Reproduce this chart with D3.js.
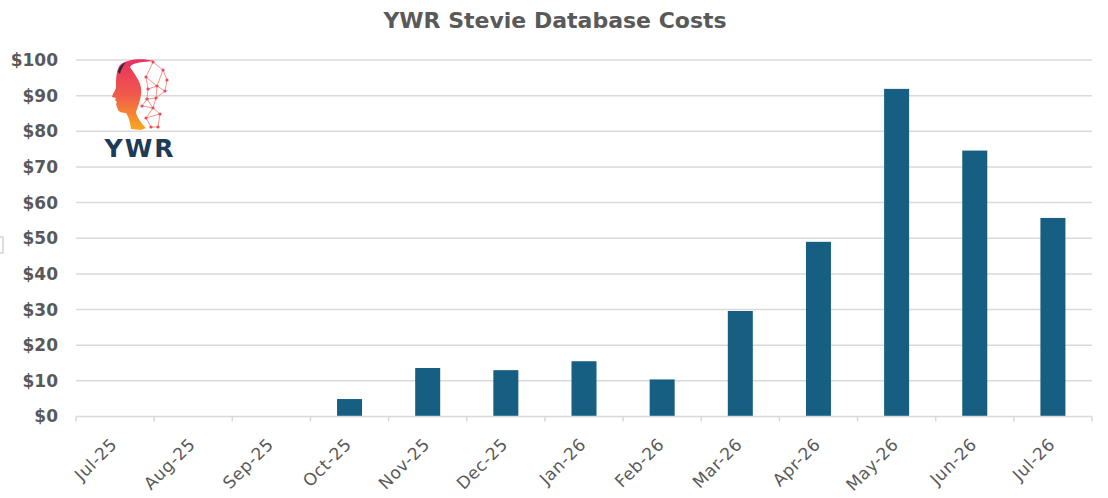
<!DOCTYPE html>
<html>
<head>
<meta charset="utf-8">
<script src="https://cdn.jsdelivr.net/npm/d3@7"></script>
<style>
  body { margin: 0; background: #fff; }
  svg { display: block; }
</style>
</head>
<body>
<svg id="chart" width="1108" height="498"></svg>
<script>
// Chart data
var months = ["Jul-25","Aug-25","Sep-25","Oct-25","Nov-25","Dec-25","Jan-26","Feb-26","Mar-26","Apr-26","May-26","Jun-26","Jul-26"];
var costs = [0, 0, 0, 4.9, 13.6, 13.0, 15.5, 10.4, 29.6, 49.0, 91.9, 74.6, 55.7];
var yTicks = [0, 10, 20, 30, 40, 50, 60, 70, 80, 90, 100];

var LEFT = 76, RIGHT = 1092, TOP = 60, BOTTOM = 416.5;
var GREY = "#595959", GRID = "#d9d9d9";

var svg = d3.select("#chart");

var x = d3.scaleBand().domain(months).range([LEFT, RIGHT]).paddingInner(0.68).paddingOuter(0.34);
var y = d3.scaleLinear().domain([0, 100]).range([BOTTOM, TOP]);

// title
svg.append("text")
	.attr("x", 555)
	.attr("y", 28)
	.attr("text-anchor", "middle")
	.attr("font-family", "DejaVu Sans")
	.attr("font-weight", "bold")
	.attr("font-size", "22px")
	.attr("fill", GREY)
	.text("YWR Stevie Database Costs");

// gridlines
svg.append("g")
	.selectAll("line")
	.data(yTicks.filter(function(d) { return d > 0; }))
	.enter()
	.append("line")
	.attr("x1", LEFT)
	.attr("x2", RIGHT)
	.attr("y1", function(d) { return y(d); })
	.attr("y2", function(d) { return y(d); })
	.attr("stroke", GRID)
	.attr("stroke-width", 1.5);

// y axis labels
var yAxis = d3.axisLeft(y).tickValues(yTicks).tickSize(0).tickPadding(0)
	.tickFormat(function(d) { return "$" + d; });
var gy = svg.append("g").attr("transform", "translate(58,0)").call(yAxis);
gy.select(".domain").remove();
gy.selectAll("text")
	.attr("font-family", "DejaVu Sans")
	.attr("font-weight", "bold")
	.attr("font-size", "17px")
	.attr("fill", GREY);

// bars
svg.append("g")
	.selectAll("rect")
	.data(months)
	.enter()
	.append("rect")
	.attr("x", function(d) { return x(d); })
	.attr("width", x.bandwidth())
	.attr("y", function(d, i) { return y(costs[i]); })
	.attr("height", function(d, i) { return BOTTOM - y(costs[i]); })
	.attr("fill", "#165f82");

// x axis line and ticks at band edges
var step = x.step();
var gx = svg.append("g");
gx.append("line")
	.attr("x1", LEFT).attr("x2", RIGHT)
	.attr("y1", BOTTOM).attr("y2", BOTTOM)
	.attr("stroke", GRID).attr("stroke-width", 1.5);
gx.selectAll(".tk")
	.data(d3.range(months.length + 1))
	.enter()
	.append("line")
	.attr("class", "tk")
	.attr("x1", function(i) { return LEFT + i * step; })
	.attr("x2", function(i) { return LEFT + i * step; })
	.attr("y1", BOTTOM)
	.attr("y2", BOTTOM + 5)
	.attr("stroke", GRID).attr("stroke-width", 1.5);

// x labels, rotated
gx.selectAll(".lbl")
	.data(months)
	.enter()
	.append("text")
	.attr("class", "lbl")
	.attr("text-anchor", "end")
	.attr("font-family", "DejaVu Sans")
	.attr("font-size", "17px")
	.attr("letter-spacing", "0.5px")
	.attr("fill", GREY)
	.attr("transform", function(d) {
		var cx = x(d) + x.bandwidth() / 2;
		return "translate(" + (cx + 3) + "," + (BOTTOM + 29) + ") rotate(-45)";
	})
	.text(function(d) { return d; });

// small box at left edge
svg.append("rect")
	.attr("x", -1).attr("y", 237).attr("width", 4).attr("height", 16)
	.attr("fill", "none").attr("stroke", "#bbb").attr("stroke-width", 1);

// YWR logo
var logo = svg.append("g");
var defs = svg.append("defs");
var grad = defs.append("linearGradient").attr("id", "headGrad")
	.attr("x1", 0).attr("y1", 0).attr("x2", 0).attr("y2", 1);
grad.append("stop").attr("offset", "0%").attr("stop-color", "#e8305e");
grad.append("stop").attr("offset", "50%").attr("stop-color", "#f05a4c");
grad.append("stop").attr("offset", "100%").attr("stop-color", "#f9a81c");

var nodes = [[153,62],[163,70],[167,80],[165,91],[157,86],[146,77],[148,89],[156,98],[147,99],[153,108],[160,114],[146,118],[158,127],[151,127],[142,106]];
var links = [[0,1],[1,2],[2,3],[3,4],[4,1],[4,5],[5,0],[5,6],[6,4],[4,7],[3,7],[7,8],[6,8],[8,9],[7,9],[9,10],[8,14],[14,9],[9,11],[11,13],[10,12],[13,12],[10,11]];
logo.selectAll(".lk")
	.data(links)
	.enter()
	.append("line")
	.attr("x1", function(d) { return nodes[d[0]][0]; })
	.attr("y1", function(d) { return nodes[d[0]][1]; })
	.attr("x2", function(d) { return nodes[d[1]][0]; })
	.attr("y2", function(d) { return nodes[d[1]][1]; })
	.attr("stroke", "#f48a7c")
	.attr("stroke-width", 0.9);
logo.selectAll("circle")
	.data(nodes)
	.enter()
	.append("circle")
	.attr("cx", function(d) { return d[0]; })
	.attr("cy", function(d) { return d[1]; })
	.attr("r", 1.6)
	.attr("fill", "#ec4a63");

logo.append("path")
	.attr("d", "M120,65 C127,59 142,58 154,61 C144,62 133,62 130,67 C133,72 140,80 141,88 C142,96 139,104 136,112 C137,118 142,124 146,128 L141,130 L131,129 C130,122 129,117 126,113 C122,113 119,112 118,110 L116,104 L117,102 L115,100 L116,98 L112,97 C113,93 116,90 116,87 C116,80 116,70 120,65 Z")
	.attr("fill", "url(#headGrad)");
logo.append("path")
	.attr("d", "M118,72 C119,67 122,64 126,62 C123,66 121,69 120,74 Z")
	.attr("fill", "#1f2a4a");

logo.append("text")
	.attr("x", 140)
	.attr("y", 157)
	.attr("text-anchor", "middle")
	.attr("font-family", "DejaVu Sans")
	.attr("font-weight", "bold")
	.attr("font-size", "25px")
	.attr("letter-spacing", "2px")
	.attr("fill", "#1d3a56")
	.text("YWR");
</script>
</body>
</html>
